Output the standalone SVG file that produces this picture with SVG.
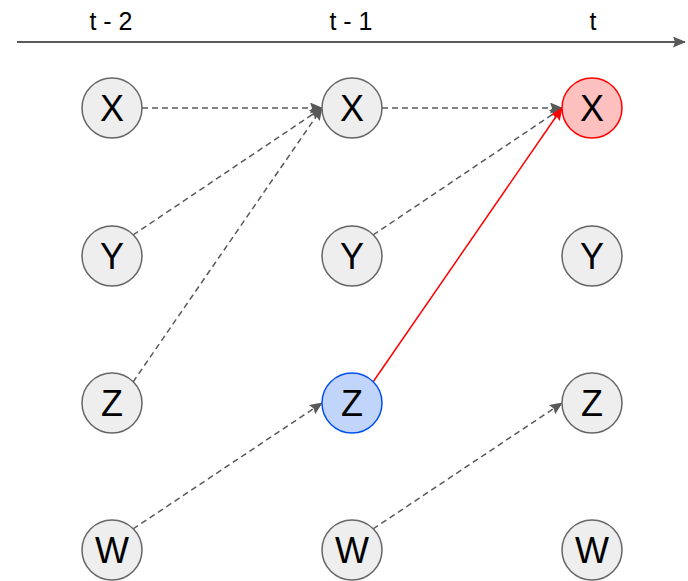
<svg xmlns="http://www.w3.org/2000/svg" width="688" height="581" viewBox="0 0 688 581">
<style>
.n circle{fill:#eeeeee;stroke:#666666;stroke-width:1.5}
.n text{font-family:"Liberation Sans",Arial,sans-serif;font-size:36px;text-anchor:middle;fill:#000}
.red circle{fill:#ffc0c0;stroke:#ff0000}
.blue circle{fill:#c1d5fa;stroke:#0050ef}
.lbl{font-family:"Liberation Sans",Arial,sans-serif;font-size:25px;text-anchor:middle;fill:#000}
.d{stroke:#595959;stroke-width:1.5;stroke-dasharray:6,4;fill:none;marker-end:url(#ag)}
.r{stroke:#ff0000;stroke-width:1.5;fill:none;marker-end:url(#ar)}
</style>
<defs>
<marker id="ag" markerUnits="userSpaceOnUse" viewBox="0 0 13 11" refX="12" refY="5.5" markerWidth="13" markerHeight="11" orient="auto"><path d="M0,0 L13,5.5 L0,11 L2,5.5 Z" fill="#595959"/></marker>
<marker id="ar" markerUnits="userSpaceOnUse" viewBox="0 0 13 11" refX="12" refY="5.5" markerWidth="13" markerHeight="11" orient="auto"><path d="M0,0 L13,5.5 L0,11 L2,5.5 Z" fill="#ff0000"/></marker>
<marker id="aa" markerUnits="userSpaceOnUse" viewBox="0 0 13 11" refX="12" refY="5.5" markerWidth="13" markerHeight="11" orient="auto"><path d="M0,0 L13,5.5 L0,11 L2,5.5 Z" fill="#595959"/></marker>
</defs>
<g id="axis">
<line x1="17" y1="42" x2="685" y2="42" stroke="#595959" stroke-width="2" marker-end="url(#aa)"/>
<text class="lbl" x="111" y="30">t - 2</text>
<text class="lbl" x="351" y="30">t - 1</text>
<text class="lbl" x="593" y="30">t</text>
</g>
<g id="connectors">
<line class="d" x1="142" y1="108" x2="322" y2="108"/>
<line class="d" x1="133" y1="235" x2="322" y2="108"/>
<line class="d" x1="133" y1="382" x2="322" y2="108"/>
<line class="d" x1="133" y1="529" x2="322" y2="403"/>
<line class="d" x1="382" y1="108" x2="562" y2="108"/>
<line class="d" x1="373" y1="235" x2="562" y2="108"/>
<line class="d" x1="373" y1="529" x2="562" y2="403"/>
<line class="r" x1="373" y1="382" x2="562" y2="108"/>
</g>
<g id="x2" class="n"><circle cx="112" cy="108" r="30"/><text x="112" y="121">X</text></g>
<g id="y2" class="n"><circle cx="112" cy="256" r="30"/><text x="112" y="269">Y</text></g>
<g id="z2" class="n"><circle cx="112" cy="403" r="30"/><text x="112" y="416">Z</text></g>
<g id="w2" class="n"><circle cx="112" cy="550" r="30"/><text x="112" y="563">W</text></g>
<g id="x1" class="n"><circle cx="352" cy="108" r="30"/><text x="352" y="121">X</text></g>
<g id="y1" class="n"><circle cx="352" cy="256" r="30"/><text x="352" y="269">Y</text></g>
<g id="z1" class="n blue"><circle cx="352" cy="403" r="30"/><text x="352" y="416">Z</text></g>
<g id="w1" class="n"><circle cx="352" cy="550" r="30"/><text x="352" y="563">W</text></g>
<g id="x0" class="n red"><circle cx="592" cy="108" r="30"/><text x="592" y="121">X</text></g>
<g id="y0" class="n"><circle cx="592" cy="256" r="30"/><text x="592" y="269">Y</text></g>
<g id="z0" class="n"><circle cx="592" cy="403" r="30"/><text x="592" y="416">Z</text></g>
<g id="w0" class="n"><circle cx="592" cy="550" r="30"/><text x="592" y="563">W</text></g>
</svg>
